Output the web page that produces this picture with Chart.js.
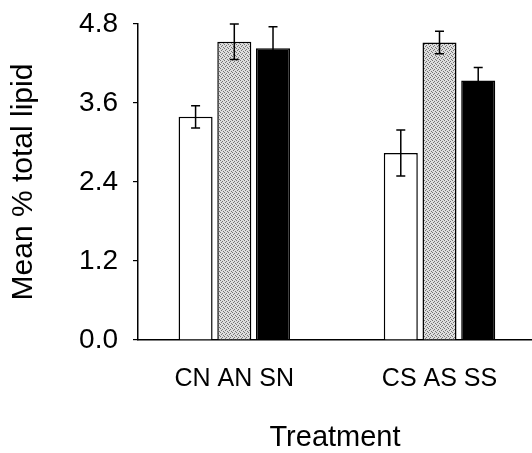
<!DOCTYPE html>
<html>
<head>
<meta charset="utf-8">
<script src="https://cdn.jsdelivr.net/npm/chart.js@4/dist/chart.umd.min.js"></script>
<style>
  html, body { margin: 0; padding: 0; background: #ffffff; }
  #wrap { width: 532px; height: 453px; }
</style>
</head>
<body>
<div id="wrap"><canvas id="c" width="532" height="453"></canvas></div>
<script>
// ---- data ----
const groupLabels = ['CN AN SN', 'CS AS SS'];
const seriesNames = ['C', 'A', 'S'];
const cValues = [3.39, 2.84];
const aValues = [4.53, 4.52];
const sValues = [4.43, 3.94];
const cErrors = [0.17, 0.35];
const aErrors = [0.27, 0.17];
const sErrors = [0.33, 0.20];
const yTicks = [0, 1.2, 2.4, 3.6, 4.8];
const xTitle = 'Treatment';
const yTitle = 'Mean % total lipid';

const FONT = "'Liberation Sans', Arial, Helvetica, sans-serif";

// stippled grey pattern
function makePattern() {
  const pc = document.createElement('canvas');
  pc.width = 4; pc.height = 4;
  const g = pc.getContext('2d');
  g.fillStyle = '#dedede';
  g.fillRect(0, 0, 4, 4);
  g.fillStyle = '#747474';
  [[0,0],[2,1],[1,2],[3,3]].forEach(p => g.fillRect(p[0], p[1], 1, 1));
  return document.getElementById('c').getContext('2d').createPattern(pc, 'repeat');
}
const greyPattern = makePattern();

function toPoints(vals) { return vals.map((v, i) => ({ x: i + 1, y: v })); }

const errorBarPlugin = {
  id: 'errorBars',
  afterDatasetsDraw(chart) {
    const ctx = chart.ctx;
    const yScale = chart.scales.y;
    ctx.save();
    ctx.strokeStyle = '#000';
    ctx.lineWidth = 1.5;
    chart.data.datasets.forEach((ds, di) => {
      const meta = chart.getDatasetMeta(di);
      meta.data.forEach((bar, i) => {
        const v = ds.data[i].y;
        const e = ds.errors[i];
        const yTop = yScale.getPixelForValue(v + e);
        const yBot = yScale.getPixelForValue(v - e);
        const x = bar.x;
        const cap = 4.5;
        ctx.beginPath();
        ctx.moveTo(x, yTop); ctx.lineTo(x, yBot);
        ctx.moveTo(x - cap, yTop); ctx.lineTo(x + cap, yTop);
        ctx.moveTo(x - cap, yBot); ctx.lineTo(x + cap, yBot);
        ctx.stroke();
      });
    });
    ctx.restore();
  }
};

const barCommon = {
  borderColor: '#000',
  borderWidth: 1.5,
  categoryPercentage: 0.566,
  barPercentage: 0.879
};

new Chart(document.getElementById('c'), {
  type: 'bar',
  data: {
    datasets: [
      Object.assign({ label: seriesNames[0], data: toPoints(cValues), errors: cErrors, backgroundColor: '#ffffff' }, barCommon),
      Object.assign({ label: seriesNames[1], data: toPoints(aValues), errors: aErrors, backgroundColor: greyPattern }, barCommon),
      Object.assign({ label: seriesNames[2], data: toPoints(sValues), errors: sErrors, backgroundColor: '#000000' }, barCommon)
    ]
  },
  plugins: [errorBarPlugin],
  options: {
    responsive: false,
    animation: false,
    layout: { padding: { top: 24, right: 0, bottom: 0, left: 0 } },
    plugins: { legend: { display: false }, tooltip: { enabled: false } },
    scales: {
      x: {
        type: 'linear',
        offset: false,
        min: 0.5307,
        max: 2.4508,
        afterBuildTicks(scale) { scale.ticks = groupLabels.map((_, i) => ({ value: i + 1 })); },
        afterFit(scale) { scale.height = 113; scale.paddingLeft = 0; scale.paddingRight = 0; },
        grid: { display: false, drawTicks: false },
        border: { display: true, color: '#000', width: 1.5 },
        ticks: {
          autoSkip: false,
          maxRotation: 0,
          padding: 24,
          color: '#000',
          font: { family: FONT, size: 25 },
          callback(value) { return groupLabels[Math.round(value) - 1] || ''; }
        },
        title: {
          display: true,
          text: xTitle,
          color: '#000',
          font: { family: FONT, size: 29, lineHeight: 1.0 },
          padding: { top: 0, bottom: 1 }
        }
      },
      y: {
        min: 0,
        max: 4.8,
        afterBuildTicks(scale) { scale.ticks = yTicks.map(v => ({ value: v })); },
        afterFit(scale) { scale.width = 138; scale.paddingTop = 0; scale.paddingBottom = 0; },
        grid: { display: true, drawOnChartArea: false, drawTicks: true, tickLength: 5, color: '#000', lineWidth: 1.2 },
        border: { display: true, color: '#000', width: 1.5 },
        ticks: {
          padding: 15,
          color: '#000',
          font: { family: FONT, size: 28 },
          callback(value) { return Number(value).toFixed(1); }
        },
        title: {
          display: true,
          text: yTitle,
          color: '#000',
          font: { family: FONT, size: 30, lineHeight: 1.2 },
          padding: { top: 6, bottom: 0 }
        }
      }
    }
  }
});
</script>
</body>
</html>
